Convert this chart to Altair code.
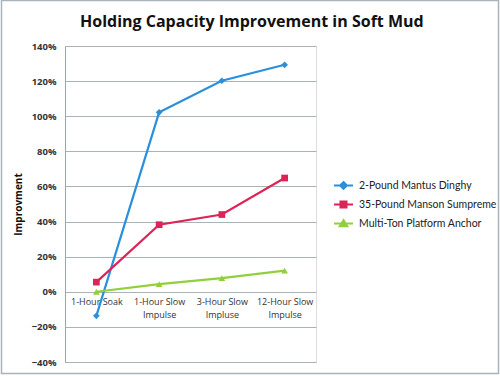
import altair as alt
import pandas as pd

title_text = "Holding Capacity Improvement in Soft Mud"
categories = ["1-Hour Soak", "1-Hour Slow|Impulse", "3-Hour Slow|Impluse", "12-Hour Slow|Impulse"]
series = ["2-Pound Mantus Dinghy", "35-Pound Manson Sumpreme", "Multi-Ton Platform Anchor"]
mantus = [-0.137, 1.022, 1.202, 1.293]
manson = [0.055, 0.382, 0.440, 0.648]
multiton = [0.0, 0.044, 0.078, 0.120]
colors = ["#2a8fdc", "#dc2457", "#92cf3c"]
shapes = ["diamond", "square", "triangle-up"]
legend_shapes = [
    "M-1,0H1M0,-0.36L0.36,0L0,0.36L-0.36,0ZM0,-0.15L0.15,0L0,0.15L-0.15,0Z",
    "M-1,0H1M-0.32,-0.32H0.32V0.32H-0.32ZM-0.13,-0.13H0.13V0.13H-0.13Z",
    "M-1,0H1M0,-0.36L0.4,0.28H-0.4ZM0,-0.1L0.15,0.15H-0.15Z",
]

rows = []
for name, vals in zip(series, [mantus, manson, multiton]):
    for c, v in zip(categories, vals):
        rows.append({"cat": c, "series": name, "value": v})
df = pd.DataFrame(rows)

x = alt.X("cat:N", sort=categories, title=None,
          scale=alt.Scale(paddingInner=0, paddingOuter=0.0),
          axis=alt.Axis(offset=-70, domain=False, ticks=False, labelAngle=0,
                        labelExpr="split(datum.label, '|')", labelFontSize=9,
                        labelColor="#333333", labelFont="Open Sans", labelPadding=5,
                        labelLineHeight=13, labelBaseline="top"))
y = alt.Y("value:Q", title="Improvment",
          scale=alt.Scale(domain=[-0.4, 1.4], nice=False),
          axis=alt.Axis(values=[-0.4, -0.2, 0, 0.2, 0.4, 0.6, 0.8, 1.0, 1.2, 1.4], format=".0%",
                        ticks=False, domainColor="#9aa5ad", gridColor="#a9b3ba",
                        labelFontSize=9.5, labelColor="#333333", labelFont="Open Sans",
                        labelFontWeight="bold", labelPadding=9,
                        titleFont="Open Sans", titleFontSize=10, titleFontWeight="bold",
                        titleColor="#111111", titlePadding=8))
cscale = alt.Scale(domain=series, range=colors)

one = pd.DataFrame({"t": [title_text]})
frame = alt.Chart(one).mark_rect(
    fill="white", fillOpacity=0, stroke="#a9b5bb", strokeWidth=1.5).encode(
    x=alt.value(-63.5), x2=alt.value(433.5), y=alt.value(-45.5), y2=alt.value(327.5))
title = alt.Chart(one).mark_text(
    font="Open Sans", fontSize=16, fontWeight="bold", color="#111111",
    align="left", baseline="middle").encode(
    text="t:N", x=alt.value(15), y=alt.value(-24))

lines = alt.Chart(df).mark_line(strokeWidth=2.2).encode(
    x=x, y=y, color=alt.Color("series:N", scale=cscale, legend=None), detail="series:N")
points = alt.Chart(df).mark_point(filled=True, size=45, opacity=1).encode(
    x=x, y=y, color=alt.Color("series:N", scale=cscale, legend=None),
    shape=alt.Shape("series:N", scale=alt.Scale(domain=series, range=shapes), legend=None))

leg = alt.Legend(title=None, orient="none", legendX=268, legendY=129,
                 labelFont="Lato", labelFontSize=10.5, labelColor="#222222",
                 labelLimit=250, rowPadding=1, symbolSize=361, symbolStrokeWidth=2,
                 labelOffset=5)
legend_layer = alt.Chart(df).transform_filter("false").mark_point(filled=False, opacity=1).encode(
    x=x, y=y,
    color=alt.Color("series:N", scale=cscale, legend=leg),
    shape=alt.Shape("series:N", scale=alt.Scale(domain=series, range=legend_shapes), legend=leg))

chart = alt.layer(frame, title, lines, points, legend_layer).resolve_legend(
    color="independent", shape="independent").resolve_scale(shape="independent").properties(
    width=251, height=316,
    autosize=alt.AutoSizeParams(type="none"),
    padding={"left": 65, "top": 46, "right": 184, "bottom": 14},
).configure_view(stroke=None).configure(background="white")

chart.save("out.html", embed_options={"renderer": "svg", "actions": False})
